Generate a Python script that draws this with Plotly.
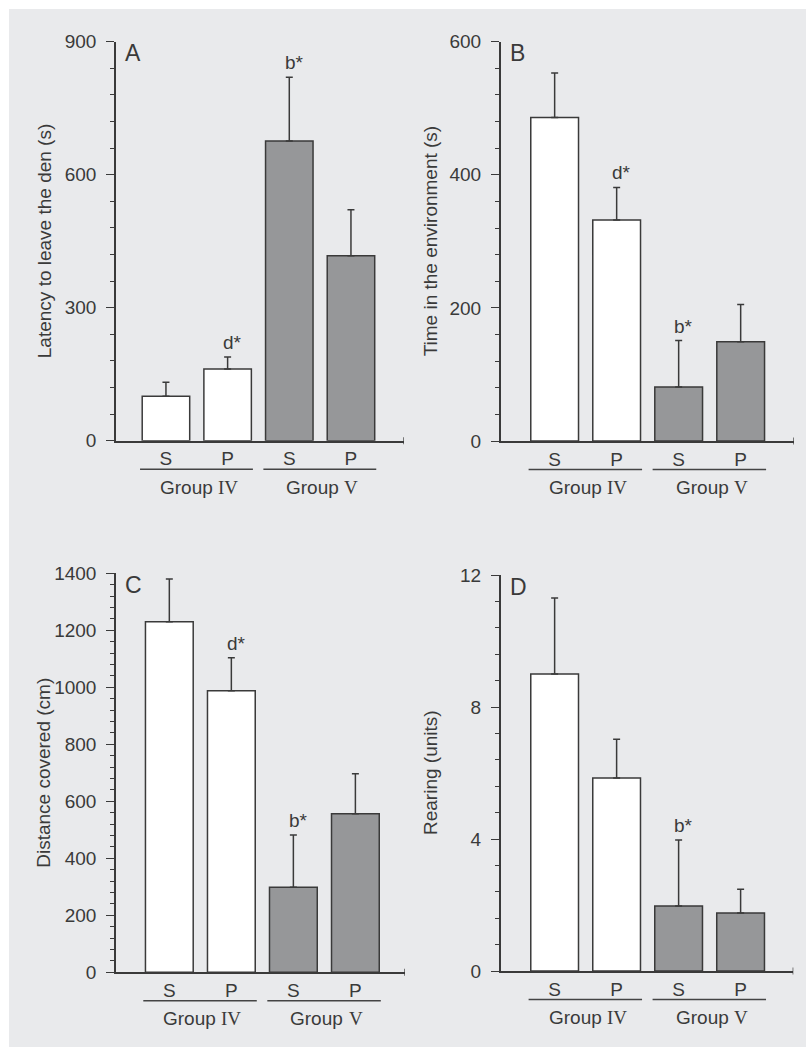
import plotly.graph_objects as go

# ---------------- data ----------------
categories = ["S", "P", "S", "P"]
group_words = ["Group", "Group"]
group_numerals = ["IV", "V"]

latency = [100, 162, 676, 417]
latency_err = [32, 27, 144, 104]

time_env = [486, 332, 81, 149]
time_env_err = [67, 49, 70, 56]

distance = [1230, 988, 298, 556]
distance_err = [150, 116, 184, 141]

rearing = [9.0, 5.85, 1.97, 1.76]
rearing_err = [2.3, 1.17, 2.0, 0.72]

sig_A = ["", "d*", "b*", ""]
sig_B = ["", "d*", "b*", ""]
sig_C = ["", "d*", "b*", ""]
sig_D = ["", "", "b*", ""]

# ---------------- style ----------------
W, H = 806, 1047
BG = "#e9eaec"
INK = "#3a3a3a"
GREY = "#969799"
FONT = "Liberation Sans, Arial, sans-serif"
SERIF = "Liberation Serif, Times New Roman, serif"
fills = ["white", "white", GREY, GREY]
LABEL_SIZE = 19
# approximate advance widths (em) used to centre the two-font group labels
WORD_EM = 2.779 + 0.278
NUMERAL_EM = {"IV": 1.055, "V": 0.722}


def px_x(p):
    return p / W


def px_y(p):
    return 1 - p / H


panels = [
    dict(letter="A", v=latency, e=latency_err, s=sig_A, title="Latency to leave the den (s)",
         ymax=900, dtick=300, minor=60, left=116, right=404, zero=440.7, top=41.7,
         xr=[-0.81, 3.86], tx=44),
    dict(letter="B", v=time_env, e=time_env_err, s=sig_B, title="Time in the environment (s)",
         ymax=600, dtick=200, minor=40, left=500.7, right=794, zero=441, top=41.7,
         xr=[-0.87, 3.86], tx=430),
    dict(letter="C", v=distance, e=distance_err, s=sig_C, title="Distance covered (cm)",
         ymax=1400, dtick=200, minor=40, left=116, right=405, zero=972.3, top=573.3,
         xr=[-0.86, 3.80], tx=44),
    dict(letter="D", v=rearing, e=rearing_err, s=sig_D, title="Rearing (units)",
         ymax=12, dtick=4, minor=0.8, left=500.7, right=793.3, zero=971, top=575,
         xr=[-0.87, 3.85], tx=430),
]

fig = go.Figure()
annotations = []
shapes = [dict(type="rect", xref="paper", yref="paper", x0=px_x(9), x1=1, y0=0, y1=px_y(9),
               fillcolor=BG, line=dict(width=0), layer="below")]

xpos = list(range(len(categories)))

for i, p in enumerate(panels):
    n = "" if i == 0 else str(i + 1)
    xa, ya = "x" + n, "y" + n
    fig.add_trace(go.Bar(
        x=xpos, y=p["v"], xaxis=xa, yaxis=ya, width=0.77,
        marker=dict(color=fills, line=dict(color=INK, width=1.5)),
        error_y=dict(type="data", array=p["e"], arrayminus=[0] * 4, symmetric=False,
                     color=INK, thickness=1.5, width=3.5),
        showlegend=False, hoverinfo="skip",
    ))
    fig.update_layout(**{
        "xaxis" + n: dict(domain=[px_x(p["left"]), px_x(p["right"])], anchor=ya,
                          range=p["xr"], showline=True, linecolor=INK, linewidth=1.5,
                          tickvals=xpos, ticktext=categories, ticks="", showgrid=False,
                          zeroline=False, tickfont=dict(family=FONT, size=LABEL_SIZE, color=INK),
                          ticklabelstandoff=0, fixedrange=True, automargin=False),
        "yaxis" + n: dict(domain=[px_y(p["zero"]), px_y(p["top"])], anchor=xa,
                          range=[0, p["ymax"]], dtick=p["dtick"], showline=True,
                          linecolor=INK, linewidth=1.5, ticks="outside", ticklen=8,
                          tickwidth=1.3, tickcolor=INK, showgrid=False, zeroline=False,
                          tickfont=dict(family=FONT, size=LABEL_SIZE, color=INK),
                          ticklabelstandoff=6, automargin=False,
                          minor=dict(dtick=p["minor"], ticks="outside", ticklen=4,
                                     tickwidth=1.1, tickcolor=INK, showgrid=False),
                          fixedrange=True),
    })
    # axis end cap
    shapes.append(dict(type="line", xref=xa, yref="paper", x0=p["xr"][1], x1=p["xr"][1],
                       y0=px_y(p["zero"] + 3.5), y1=px_y(p["zero"] - 3.5),
                       line=dict(color=INK, width=1.3)))
    # group lines and labels
    for g in range(len(group_words)):
        c = 2 * g + 0.5
        shapes.append(dict(type="line", xref=xa, yref="paper", x0=c - 0.92, x1=c + 0.91,
                           y0=px_y(p["zero"] + 28.5), y1=px_y(p["zero"] + 28.5),
                           line=dict(color="#444444", width=1.5)))
        word_w = WORD_EM * LABEL_SIZE
        num_w = NUMERAL_EM[group_numerals[g]] * LABEL_SIZE
        start = -(word_w + num_w) / 2
        ylab = px_y(p["zero"] + 46.5)
        annotations.append(dict(x=c, xref=xa, y=ylab, yref="paper", xshift=start,
                                text=group_words[g], showarrow=False, xanchor="left",
                                yanchor="middle",
                                font=dict(family=FONT, size=LABEL_SIZE, color=INK)))
        annotations.append(dict(x=c, xref=xa, y=ylab, yref="paper", xshift=start + word_w,
                                text=group_numerals[g], showarrow=False, xanchor="left",
                                yanchor="middle",
                                font=dict(family=SERIF, size=LABEL_SIZE, color=INK)))
    # significance labels
    for k in range(4):
        if p["s"][k]:
            annotations.append(dict(x=xpos[k] + 0.08, xref=xa, y=p["v"][k] + p["e"][k], yref=ya,
                                    text=p["s"][k], showarrow=False, xanchor="center",
                                    yanchor="bottom", yshift=2,
                                    font=dict(family=FONT, size=LABEL_SIZE, color=INK)))
    # panel letter
    annotations.append(dict(x=px_x(p["left"] + 7), xref="paper", y=px_y(p["top"] + 11.5),
                            yref="paper", text=p["letter"], showarrow=False, xanchor="left",
                            yanchor="middle", font=dict(family=FONT, size=23, color=INK)))
    # y title
    annotations.append(dict(x=px_x(p["tx"]), xref="paper", y=0.5, yref=ya + " domain",
                            text=p["title"], textangle=-90, showarrow=False,
                            xanchor="center", yanchor="middle",
                            font=dict(family=FONT, size=19, color=INK)))

fig.update_layout(template="none", width=W, height=H, autosize=False,
                  margin=dict(l=0, r=0, t=0, b=0, pad=0, autoexpand=False),
                  paper_bgcolor="white", plot_bgcolor="rgba(0,0,0,0)",
                  shapes=shapes, annotations=annotations, bargap=0.2)

css = "margin:0;padding:0;overflow:hidden;height:1047px;width:806px"
fig.write_html(
    "out.html",
    config={"displayModeBar": False, "responsive": False},
    post_script=("document.documentElement.style.cssText='" + css + "';"
                 "document.body.style.cssText='" + css + "';"),
)
